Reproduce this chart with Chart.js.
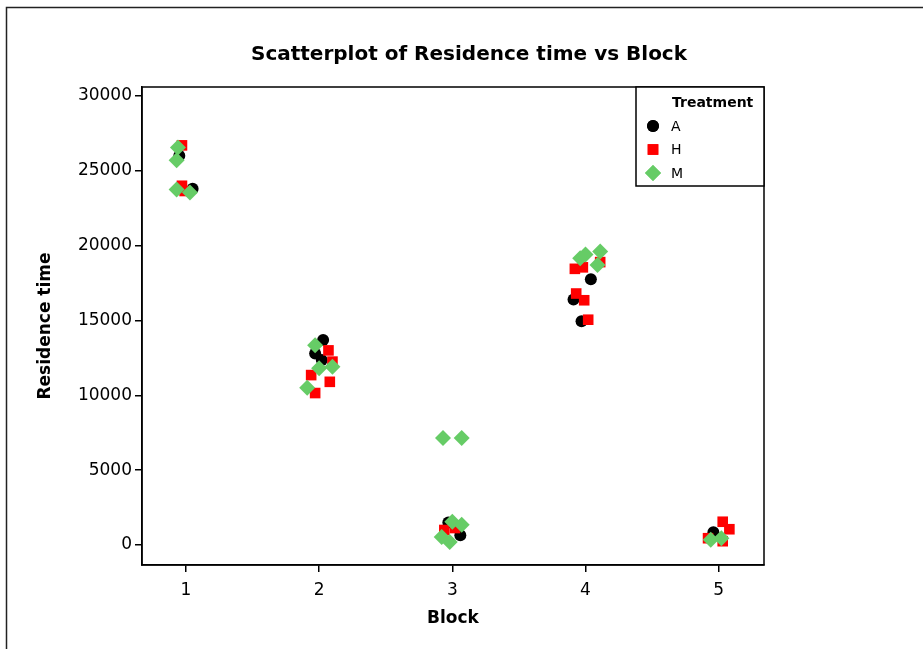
<!DOCTYPE html>
<html>
<head>
<meta charset="utf-8">
<title>Scatterplot of Residence time vs Block</title>
<script src="https://cdn.jsdelivr.net/npm/chart.js@4/dist/chart.umd.min.js"></script>
<style>
  html, body { margin: 0; padding: 0; background: #fff; }
  #wrap { width: 923px; height: 649px; position: relative; }
</style>
</head>
<body>
<div id="wrap"><canvas id="scatter"></canvas></div>
<script>
// Block positions (jittered) and residence times per treatment
const blockTicks = [1, 2, 3, 4, 5];
const timeTicks = [0, 5000, 10000, 15000, 20000, 25000, 30000];

const blockA = [0.95, 1.05, 2.03, 1.97, 2.02, 2.97, 3.06, 4.04, 3.91, 3.97, 4.96];
const timeA  = [26000, 23800, 13700, 12800, 12350, 1500, 650, 17750, 16400, 14950, 850];

const blockH = [0.97, 0.97, 0.99, 2.07, 2.10, 1.94, 2.08, 1.97, 2.94, 3.02,
                3.92, 3.98, 4.11, 3.93, 3.99, 4.02, 5.03, 5.08, 4.92, 5.03];
const timeH  = [26700, 24000, 23650, 13000, 12250, 11350, 10900, 10150, 1000, 1130,
                18450, 18550, 18900, 16800, 16350, 15050, 1550, 1050, 450, 250];

const blockM = [0.94, 0.93, 0.93, 1.03, 1.97, 2.00, 2.10, 1.91, 2.93, 3.07, 3.00, 3.07, 2.92, 2.98,
                3.96, 4.00, 4.11, 4.09, 4.94, 5.02];
const timeM  = [26550, 25700, 23750, 23550, 13350, 11800, 11900, 10500, 7150, 7150, 1550, 1350, 530, 200,
                19150, 19400, 19600, 18700, 350, 450];

const toPoints = (xs, ys) => xs.map((x, i) => ({ x: x, y: ys[i] }));

const tickFont = { family: 'DejaVu Sans', size: 17 };
const titleFont = { family: 'DejaVu Sans', size: 17, weight: 'bold' };

// frame, outer border, chart title and legend box
const decorations = {
  id: 'decorations',
  afterDraw(chart) {
    const ctx = chart.ctx;
    const a = chart.chartArea;
    ctx.save();
    ctx.strokeStyle = '#000';
    ctx.lineWidth = 1.5;
    ctx.strokeRect(a.left, a.top, a.right - a.left, a.bottom - a.top);

    // outer border running off the page
    ctx.strokeStyle = '#222';
    ctx.beginPath();
    ctx.moveTo(6.5, 649);
    ctx.lineTo(6.5, 7.5);
    ctx.lineTo(923, 7.5);
    ctx.stroke();

    ctx.fillStyle = '#000';
    ctx.font = 'bold 20px "DejaVu Sans"';
    ctx.textAlign = 'center';
    ctx.textBaseline = 'middle';
    ctx.fillText('Scatterplot of Residence time vs Block', 469, 55);

    // legend
    const lx = 636, ly = a.top, lw = a.right - 636, lh = 99;
    ctx.fillStyle = '#fff';
    ctx.fillRect(lx, ly, lw, lh);
    ctx.strokeStyle = '#000';
    ctx.strokeRect(lx, ly, lw, lh);
    ctx.fillStyle = '#000';
    ctx.textAlign = 'left';
    ctx.font = 'bold 14px "DejaVu Sans"';
    ctx.fillText('Treatment', 672, ly + 16);
    ctx.font = '14px "DejaVu Sans"';
    chart.data.datasets.forEach((ds, i) => {
      const y = ly + 39 + i * 23.5;
      ctx.fillStyle = ds.backgroundColor;
      Chart.helpers.drawPoint(ctx, { pointStyle: ds.pointStyle, radius: ds.pointRadius, borderWidth: 0 }, 653, y);
      ctx.fill();
      ctx.fillStyle = '#000';
      ctx.fillText(ds.label, 671, y + 1);
    });
    ctx.restore();
  }
};

new Chart(document.getElementById('scatter'), {
  type: 'scatter',
  data: {
    datasets: [
      { label: 'A', data: toPoints(blockA, timeA), pointStyle: 'circle', pointRadius: 6,
        backgroundColor: '#000000', borderWidth: 0, order: 3 },
      { label: 'H', data: toPoints(blockH, timeH), pointStyle: 'rect', pointRadius: 7.5,
        backgroundColor: '#ff0000', borderWidth: 0, order: 2 },
      { label: 'M', data: toPoints(blockM, timeM), pointStyle: 'rectRot', pointRadius: 8,
        backgroundColor: '#66cc66', borderWidth: 0, order: 1 }
    ]
  },
  options: {
    responsive: true,
    maintainAspectRatio: false,
    animation: false,
    layout: { padding: { left: 20, top: 87, right: 159, bottom: 0 } },
    plugins: {
      legend: { display: false },
      title: { display: false },
      tooltip: { enabled: false }
    },
    elements: { point: { hoverRadius: 0 } },
    scales: {
      x: {
        type: 'linear',
        min: 0.67,
        max: 5.34,
        afterBuildTicks: s => { s.ticks = blockTicks.map(v => ({ value: v })); },
        afterFit: s => { s.height = 84; },
        ticks: { font: tickFont, color: '#000', padding: 8, callback: v => String(v) },
        grid: { drawOnChartArea: false, drawTicks: true, tickLength: 7, color: '#000', lineWidth: 1.5 },
        border: { display: true, color: '#000', width: 1.5 },
        title: { display: true, text: 'Block', font: titleFont, color: '#000', padding: { top: 0, bottom: 20 } }
      },
      y: {
        type: 'linear',
        min: -1340,
        max: 30600,
        afterBuildTicks: s => { s.ticks = timeTicks.map(v => ({ value: v })); },
        afterFit: s => { s.width = 122; },
        ticks: { font: tickFont, color: '#000', padding: 3, callback: v => String(v) },
        grid: { drawOnChartArea: false, drawTicks: true, tickLength: 7, color: '#000', lineWidth: 1.5 },
        border: { display: true, color: '#000', width: 1.5 },
        title: { display: true, text: 'Residence time', font: titleFont, color: '#000', padding: { top: 15, bottom: 0 } }
      }
    }
  },
  plugins: [decorations]
});
</script>
</body>
</html>
